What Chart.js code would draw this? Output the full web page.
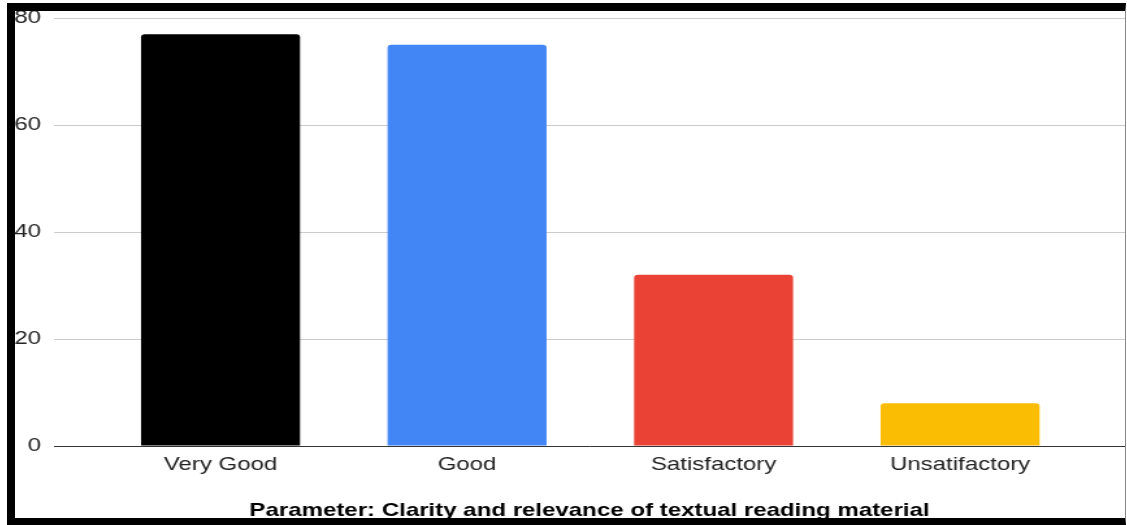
<!DOCTYPE html>
<html>
<head>
<meta charset="utf-8">
<script src="https://cdn.jsdelivr.net/npm/chart.js@4"></script>
<style>
    body { margin: 0; background: #fff; width: 1127px; height: 525px; overflow: hidden; }
    #frame {
        position: absolute; left: 7px; top: 3px;
        width: 1110px; height: 507px;
        border-left: 8px solid #000; border-top: 8px solid #000;
        border-bottom: 7px solid #000; border-right: 1px solid #888;
        overflow: hidden; background: #fff;
    }
    #chart { position: absolute; left: 0; top: -14px; }
</style>
</head>
<body>
<div id="frame"><canvas id="chart" width="854" height="521" style="width: 1110px; height: 521px;"></canvas></div>
<script>
const categories = ["Very Good", "Good", "Satisfactory", "Unsatifactory"];
const counts = [77, 75, 32, 8];
const barColors = ["#000000", "#4285F4", "#EA4335", "#FBBC04"];
const yTicks = [0, 20, 40, 60, 80];
const axisTitle = "Parameter: Clarity and relevance of textual reading material";

const font = "'Liberation Sans', Arial, sans-serif";

new Chart("chart", {
    type: "bar",
    data: {
        datasets: [{
            data: counts.map((v, i) => ({x: i, y: v})),
            backgroundColor: barColors,
            borderRadius: 3,
            borderSkipped: "start",
            categoryPercentage: 1,
            barPercentage: 0.645
        }]
    },
    options: {
        responsive: false,
        animation: false,
        layout: {padding: {top: 12, left: 0, right: 0, bottom: 0}},
        plugins: {legend: {display: false}, tooltip: {enabled: false}},
        scales: {
            x: {
                type: "linear",
                offset: false,
                min: -0.6755,
                max: 3.669,
                afterBuildTicks: s => { s.ticks = categories.map((_, i) => ({value: i})); },
                afterFit: s => { s.height = 72; },
                grid: {display: false, drawTicks: false},
                border: {display: true, color: "#333", width: 1},
                ticks: {
                    autoSkip: false,
                    maxRotation: 0,
                    padding: 8,
                    color: "#222",
                    font: {family: font, size: 18.5},
                    callback: v => categories[v]
                },
                title: {
                    display: true,
                    text: axisTitle,
                    color: "#000",
                    font: {family: font, size: 18.5, weight: "bold"},
                    padding: {top: 0, bottom: -4}
                }
            },
            y: {
                min: 0,
                max: 80,
                afterBuildTicks: s => { s.ticks = yTicks.map(v => ({value: v})); },
                afterFit: s => { s.width = 30; },
                grid: {color: "#cccccc", drawTicks: false},
                border: {display: false},
                ticks: {
                    padding: 10,
                    color: "#222",
                    font: {family: font, size: 18.5}
                }
            }
        }
    }
});
</script>
</body>
</html>
